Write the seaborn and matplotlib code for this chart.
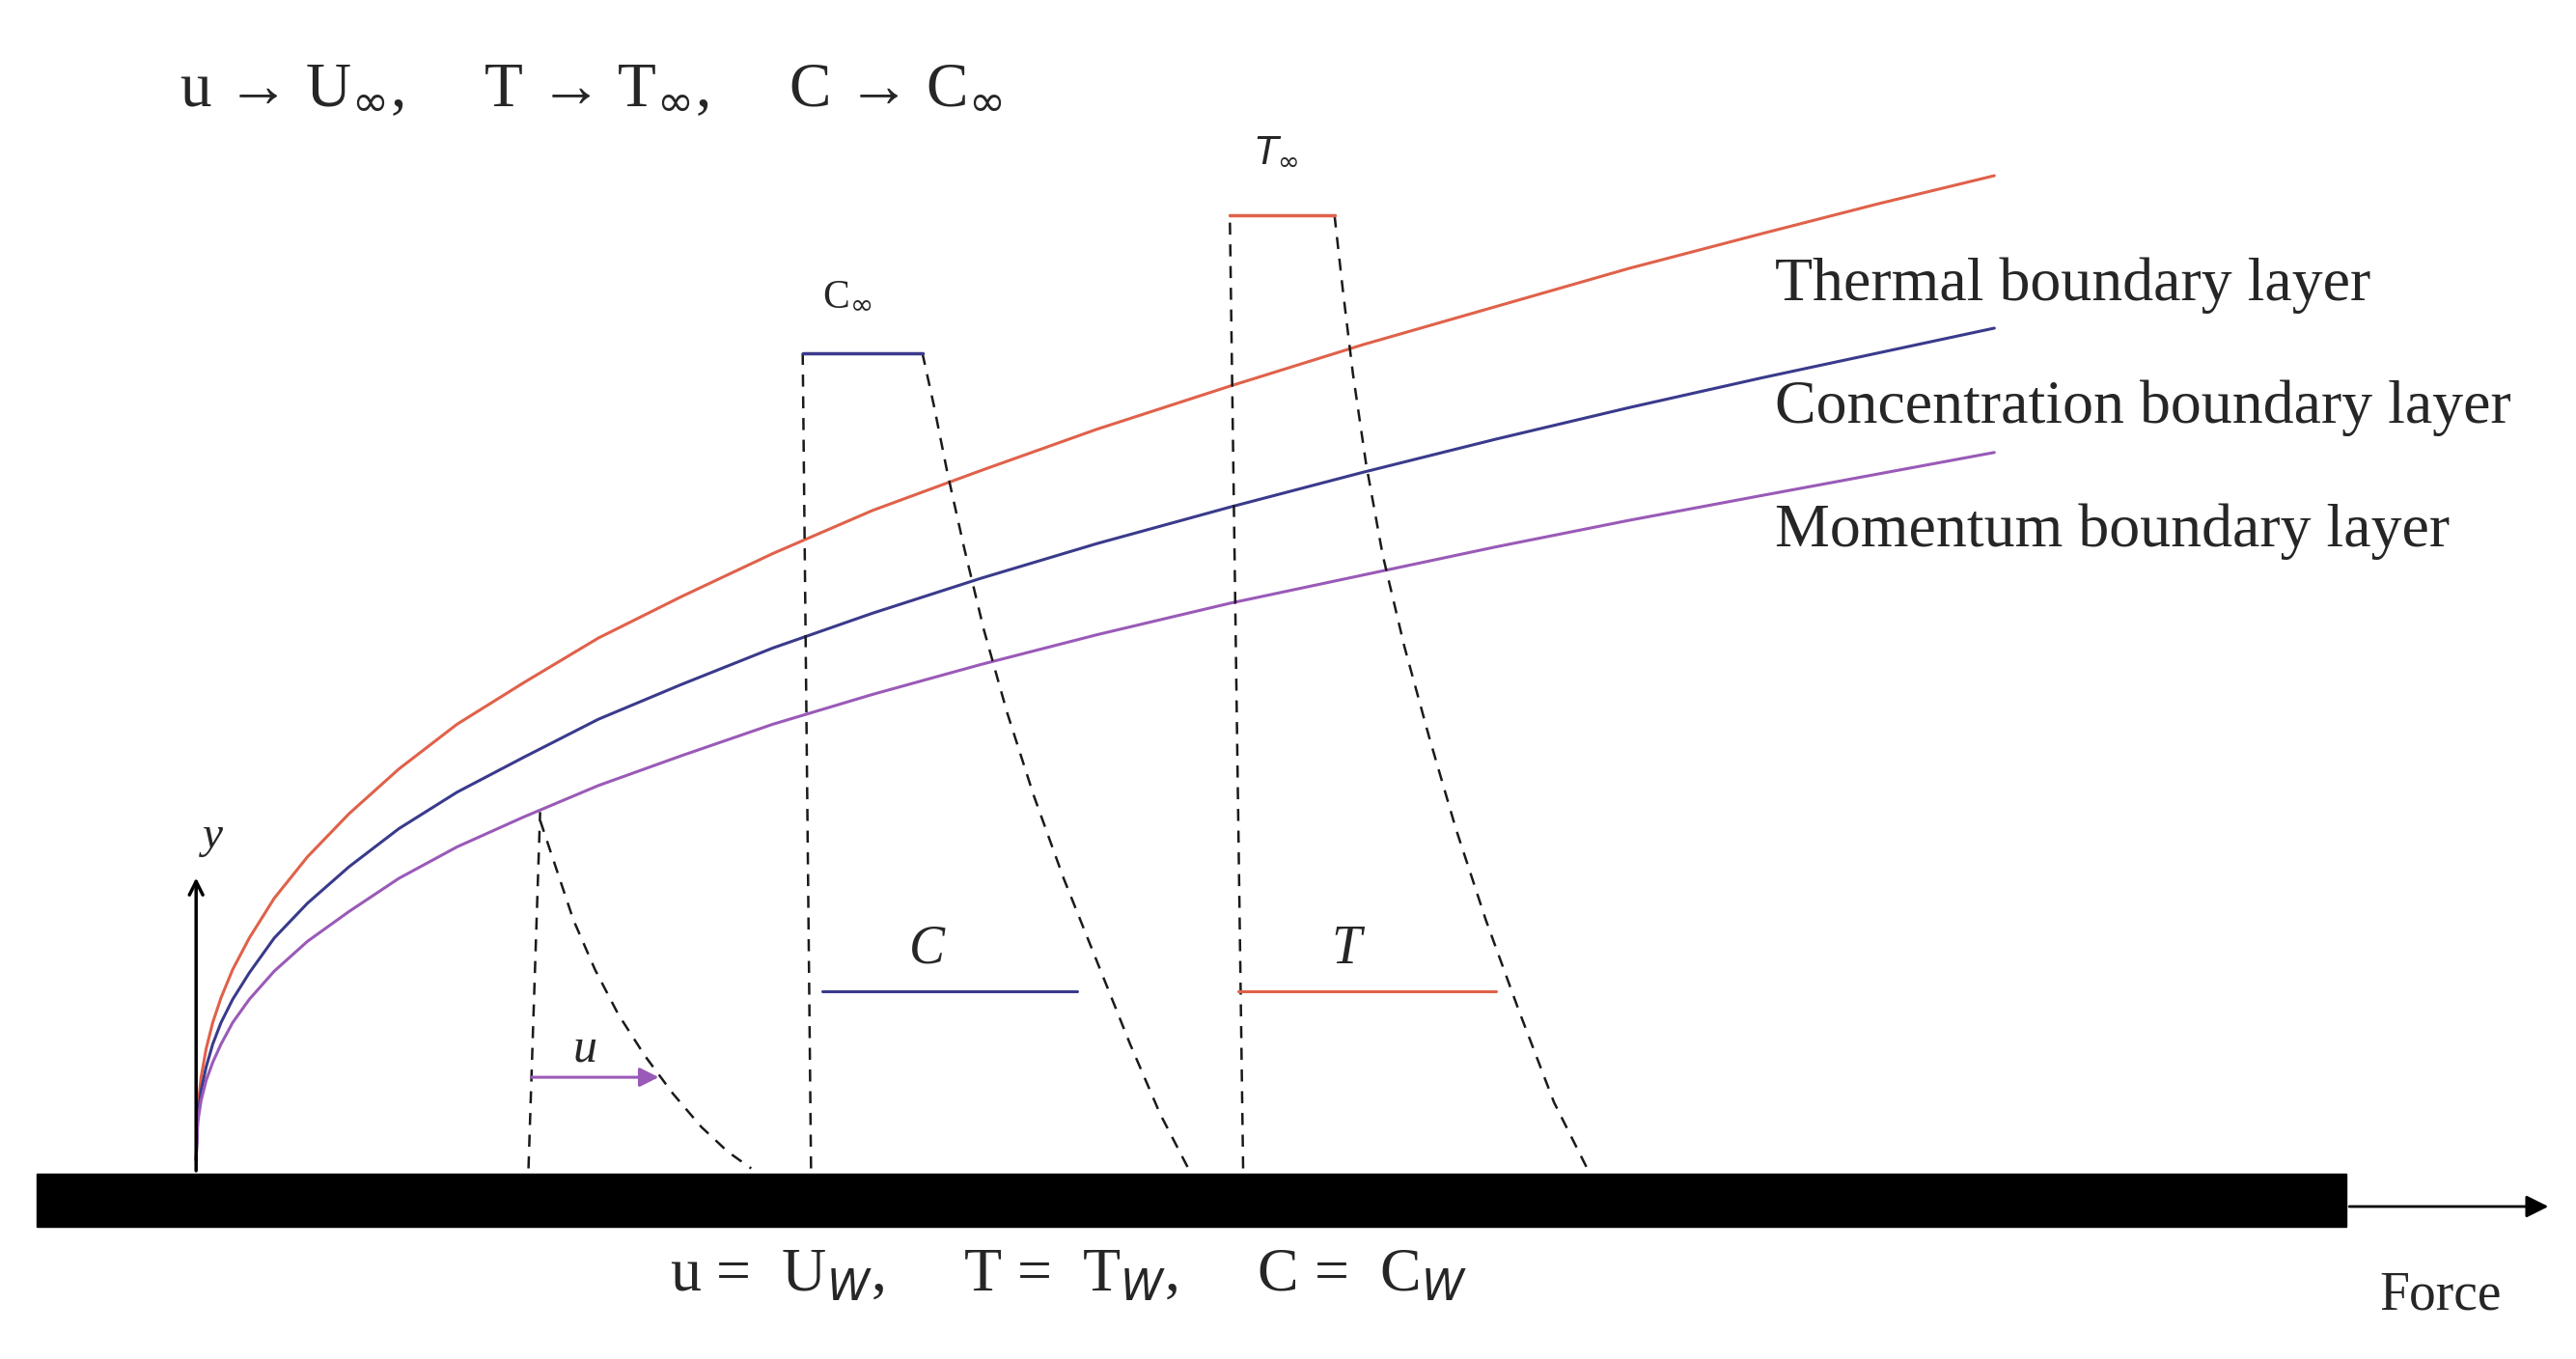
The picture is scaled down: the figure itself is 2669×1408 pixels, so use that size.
import matplotlib
matplotlib.use("Agg")
import matplotlib.pyplot as plt
import seaborn as sns
import pandas as pd
from matplotlib.patches import Rectangle

sns.set_theme(style="white")
plt.rcParams['font.family'] = ['Liberation Serif', 'DejaVu Serif']

# boundary layer curves (image-like coordinates, y downward)
bl_x = [118, 119, 121, 124, 128, 133, 140, 150, 165, 185, 210, 240, 275, 315, 360, 410,
        465, 525, 590, 660, 740, 820, 900, 980, 1060, 1130, 1200]
thermal_y = [700, 669, 650, 633, 617, 602, 585, 566, 542, 517, 491, 464, 437, 412, 385, 360,
             334, 308, 284, 259, 233, 208, 185, 162, 141, 123, 106]
conc_y = [700, 674, 658, 644, 630, 617, 603, 587, 566, 545, 523, 500, 478, 457, 434, 413,
          391, 370, 349, 328, 306, 285, 265, 246, 228, 213, 198]
mom_y = [700, 677, 664, 652, 641, 630, 617, 603, 586, 568, 550, 530, 511, 493, 474, 456,
         437, 419, 401, 383, 364, 347, 330, 314, 299, 286, 273]
# dashed profile curves
u_prof_x = [325, 335, 345, 358, 372, 388, 405, 422, 438, 452]
u_prof_y = [495, 525, 555, 585, 612, 637, 660, 680, 695, 705]
c_prof_x = [555, 562, 570, 580, 592, 606, 622, 640, 660, 680, 698, 715]
c_prof_y = [213, 245, 285, 330, 380, 430, 480, 530, 580, 630, 672, 705]
t_prof_x = [803, 808, 814, 822, 832, 845, 860, 876, 894, 914, 935, 955]
t_prof_y = [130, 175, 225, 280, 335, 390, 445, 500, 555, 610, 665, 705]

red, blue, purple = "#e0614a", "#3a3a8c", "#9a5ab8"

fig, ax = plt.subplots(figsize=(26.69, 14.08), dpi=100)
fig.subplots_adjust(0, 0, 1, 1)
ax.set_xlim(0, 1550); ax.set_ylim(820, 0); ax.axis("off")

n = len(bl_x)
df = pd.DataFrame({"x": bl_x * 3, "y": thermal_y + conc_y + mom_y,
                   "layer": ["T"] * n + ["C"] * n + ["M"] * n})
sns.lineplot(data=df, x="x", y="y", hue="layer", palette={"T": red, "C": blue, "M": purple},
             ax=ax, legend=False, lw=2.2, sort=False)
for xs, ys in [(u_prof_x, u_prof_y), (c_prof_x, c_prof_y), (t_prof_x, t_prof_y)]:
    ax.plot(xs, ys, "k--", lw=1.8, dashes=(5, 4))
ax.plot([318, 325], [705, 490], "k--", lw=1.8, dashes=(5, 4))
ax.plot([488, 483], [705, 213], "k--", lw=1.8, dashes=(5, 4))
ax.plot([483, 555], [213, 213], color=blue, lw=2.5)
ax.plot([748, 740], [705, 130], "k--", lw=1.8, dashes=(5, 4))
ax.plot([740, 803], [130, 130], color=red, lw=2.5)
ax.plot([495, 648], [598, 598], color=blue, lw=2.2)
ax.plot([745, 900], [598, 598], color=red, lw=2.2)
ax.annotate("", xy=(398, 650), xytext=(318, 650),
            arrowprops=dict(arrowstyle="-|>", color=purple, lw=2.2, mutation_scale=30))
ax.add_patch(Rectangle((22, 708), 1390, 32, color="black"))
ax.annotate("", xy=(1535, 728), xytext=(1412, 728),
            arrowprops=dict(arrowstyle="-|>", color="black", lw=2, mutation_scale=35))
ax.annotate("", xy=(118, 528), xytext=(118, 708),
            arrowprops=dict(arrowstyle="->", color="black", lw=2.5, mutation_scale=25))

ax.text(108, 55, r"u → U$_{\infty}$,     T → T$_{\infty}$,     C → C$_{\infty}$", fontsize=47, va="center")
ax.text(403, 770, r"u =  U$_W$,     T =  T$_W$,     C =  C$_W$", fontsize=46, va="center")
ax.text(1432, 782, "Force", fontsize=40, va="center")
ax.text(1068, 172, "Thermal boundary layer", fontsize=46, va="center")
ax.text(1068, 246, "Concentration boundary layer", fontsize=46, va="center")
ax.text(1068, 321, "Momentum boundary layer", fontsize=46, va="center")
ax.text(495, 178, r"C$_{\infty}$", fontsize=30, va="center")
ax.text(755, 92, r"$T_\infty$", fontsize=28, va="center")
ax.text(558, 573, "C", fontsize=40, style="italic", ha="center", va="center")
ax.text(810, 573, "T", fontsize=40, style="italic", ha="center", va="center")
ax.text(352, 633, "u", fontsize=36, style="italic", ha="center", va="center")
ax.text(128, 505, "y", fontsize=34, style="italic", ha="center", va="center")
fig.savefig("out.png", dpi=100)
